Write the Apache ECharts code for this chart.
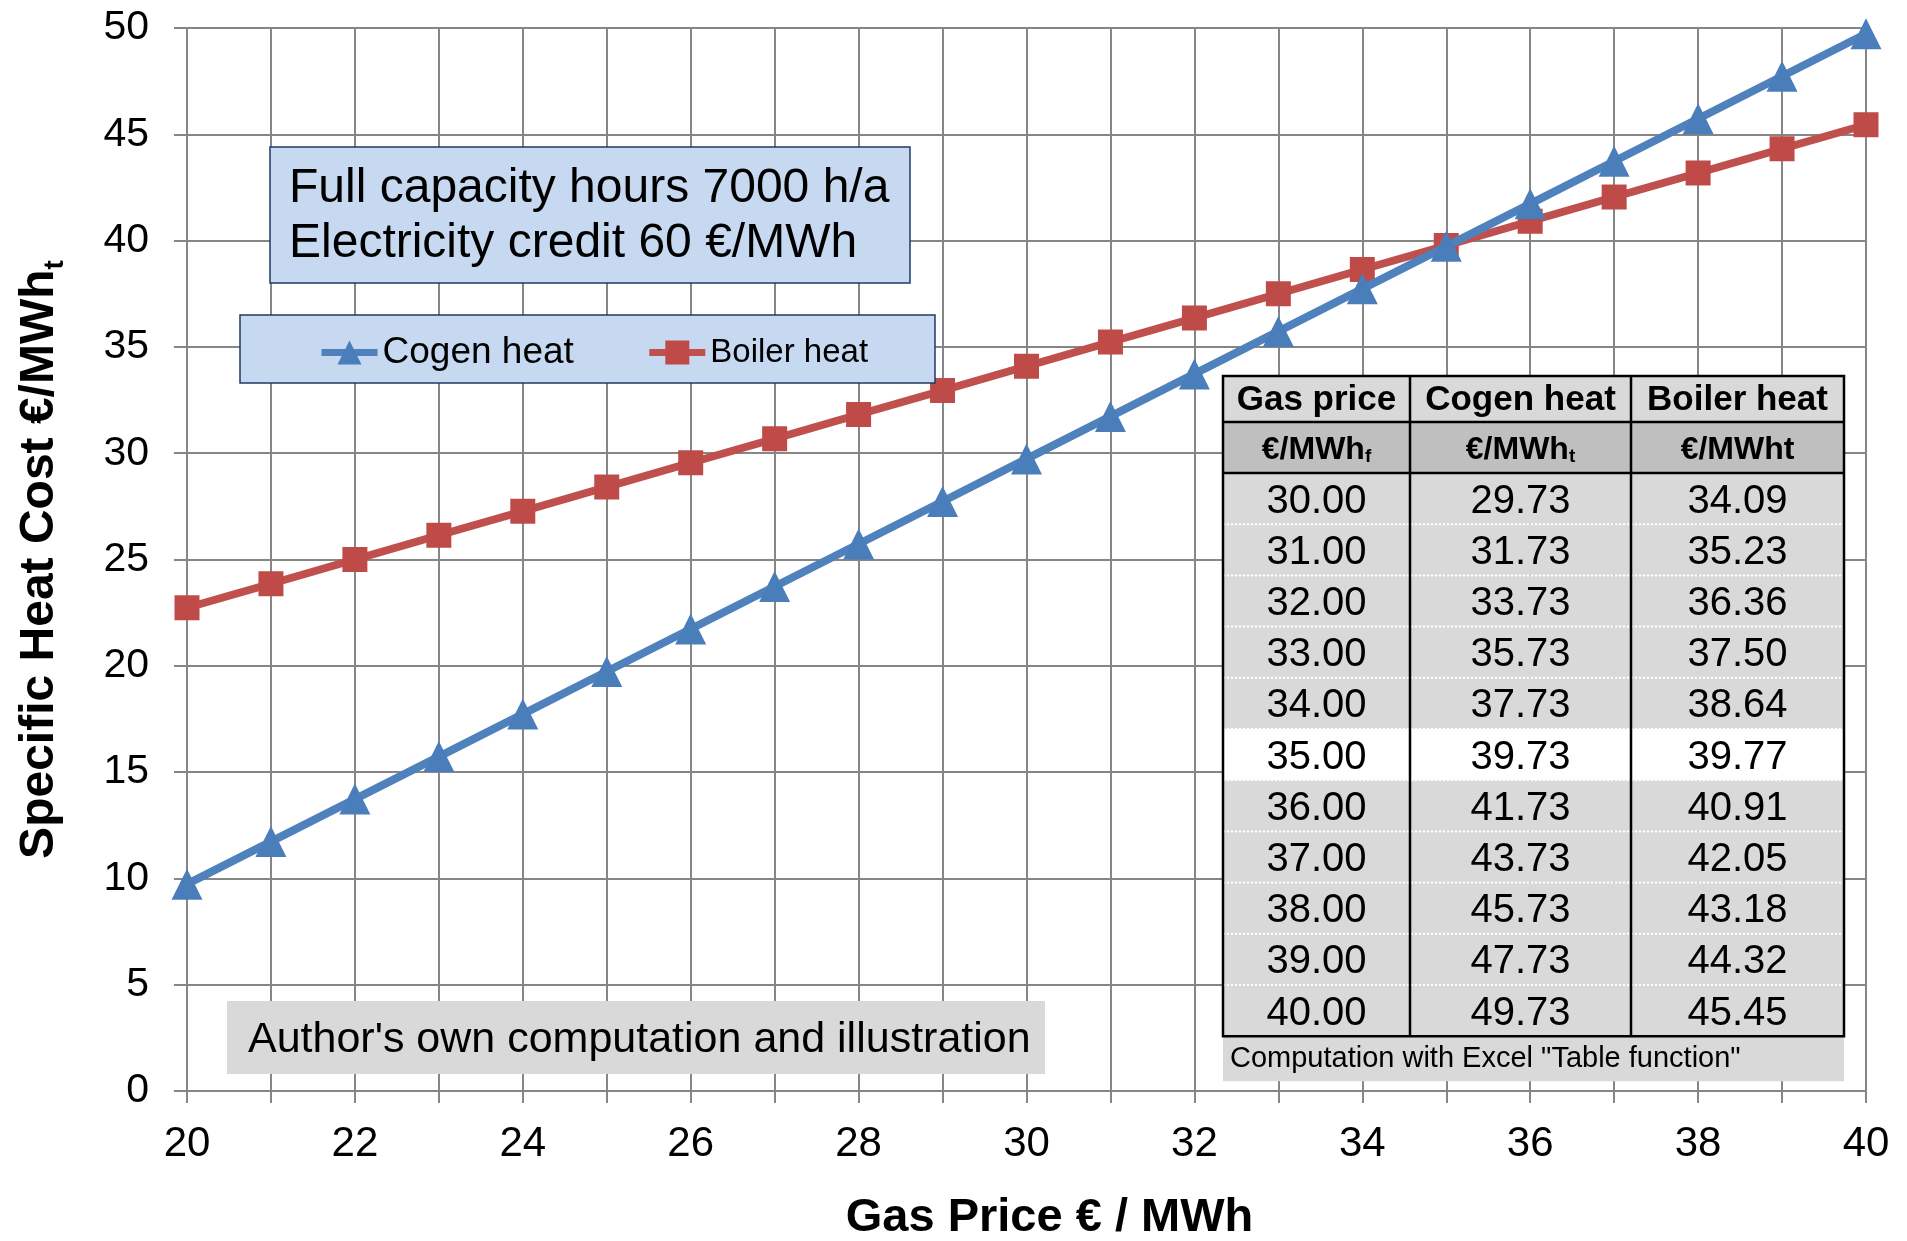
<!DOCTYPE html>
<html>
<head>
<meta charset="utf-8">
<script src="https://cdn.jsdelivr.net/npm/echarts@6/dist/echarts.min.js"></script>
<style>
html,body{margin:0;padding:0;background:#fff;}
#chart{width:1907px;height:1241px;}
</style>
</head>
<body>
<div id="chart"></div>
<script>
// ---- data ----
var gasPrice = [20,21,22,23,24,25,26,27,28,29,30,31,32,33,34,35,36,37,38,39,40];
var cogenHeat = [9.73,11.73,13.73,15.73,17.73,19.73,21.73,23.73,25.73,27.73,29.73,31.73,33.73,35.73,37.73,39.73,41.73,43.73,45.73,47.73,49.73];
var boilerHeat = [22.73,23.86,25.00,26.14,27.27,28.41,29.55,30.68,31.82,32.95,34.09,35.23,36.36,37.50,38.64,39.77,40.91,42.05,43.18,44.32,45.45];
var seriesNames = ['Cogen heat','Boiler heat'];
var tableGas = ['30.00','31.00','32.00','33.00','34.00','35.00','36.00','37.00','38.00','39.00','40.00'];
var tableCogen = ['29.73','31.73','33.73','35.73','37.73','39.73','41.73','43.73','45.73','47.73','49.73'];
var tableBoiler = ['34.09','35.23','36.36','37.50','38.64','39.77','40.91','42.05','43.18','44.32','45.45'];
var tableHead1 = ['Gas price','Cogen heat','Boiler heat'];
var tableHead2 = ['€/MWh{s|f}','€/MWh{s|t}','€/MWht'];
var highlightRow = 5;
var infoLines = ['Full capacity hours 7000 h/a','Electricity credit 60 €/MWh'];
var sourceNote = "Author's own computation and illustration";
var tableNote = 'Computation with Excel "Table function"';
var xTitle = 'Gas Price € / MWh';
var yTitle = 'Specific Heat Cost €/MWh{sub|t}';

// ---- build ----
var FF = '"Liberation Sans", Arial, sans-serif';
var chart = echarts.init(document.getElementById('chart'), null, {renderer:'canvas'});

function pairs(xs, ys){ return xs.map(function(x,i){ return [x, ys[i]]; }); }

var g = [];
// info box
g.push({type:'rect', shape:{x:270,y:147,width:640,height:136}, style:{fill:'#C6D9F1', stroke:'#1F3A64', lineWidth:1.5}, z:50});
g.push({type:'text', x:289, y:161, style:{text:infoLines.join('\n'), font:'48px '+FF, fill:'#000', lineHeight:55}, z:51});
// legend box
g.push({type:'rect', shape:{x:240,y:315,width:695,height:68}, style:{fill:'#C6D9F1', stroke:'#1F3A64', lineWidth:1.5}, z:50});
// source note
g.push({type:'rect', shape:{x:227,y:1001,width:818,height:73}, style:{fill:'#D9D9D9'}, z:50});
g.push({type:'text', x:248, y:1040, style:{text:sourceNote, font:'43px '+FF, fill:'#000', verticalAlign:'middle'}, z:51});

// table
var colX = [1223,1410,1631,1844];
var h1Top = 376, h2Top = 422, dTop = 473, rowH = 51.2, nRows = tableGas.length;
var tBottom = dTop + rowH*nRows;
// fills
g.push({type:'rect', shape:{x:colX[0],y:h1Top,width:colX[3]-colX[0],height:h2Top-h1Top}, style:{fill:'#D9D9D9'}, z:60});
g.push({type:'rect', shape:{x:colX[0],y:h2Top,width:colX[3]-colX[0],height:dTop-h2Top}, style:{fill:'#BFBFBF'}, z:60});
for (var r=0;r<nRows;r++){
  g.push({type:'rect', shape:{x:colX[0],y:dTop+r*rowH,width:colX[3]-colX[0],height:rowH}, style:{fill: r===highlightRow ? '#FFFFFF' : '#D9D9D9'}, z:60});
}
// footer
g.push({type:'rect', shape:{x:colX[0],y:tBottom,width:colX[3]-colX[0],height:45}, style:{fill:'#D9D9D9'}, z:60});
g.push({type:'text', x:colX[0]+7, y:tBottom+23, style:{text:tableNote, font:'29px '+FF, fill:'#000', verticalAlign:'middle'}, z:62});
// dotted row separators
for (var r=1;r<nRows;r++){
  g.push({type:'line', shape:{x1:colX[0],y1:dTop+r*rowH,x2:colX[3],y2:dTop+r*rowH}, style:{stroke:'#FFFFFF', lineWidth:2, lineDash:[2,2]}, z:61});
}
// borders
var bw = 2.5;
g.push({type:'rect', shape:{x:colX[0],y:h1Top,width:colX[3]-colX[0],height:tBottom-h1Top}, style:{fill:null, stroke:'#000', lineWidth:bw}, z:63});
[h2Top, dTop].forEach(function(y){
  g.push({type:'line', shape:{x1:colX[0],y1:y,x2:colX[3],y2:y}, style:{stroke:'#000', lineWidth:bw}, z:63});
});
[colX[1], colX[2]].forEach(function(x){
  g.push({type:'line', shape:{x1:x,y1:h1Top,x2:x,y2:tBottom}, style:{stroke:'#000', lineWidth:bw}, z:63});
});
// texts
for (var c=0;c<3;c++){
  var cx = (colX[c]+colX[c+1])/2;
  g.push({type:'text', x:cx, y:(h1Top+h2Top)/2+1, style:{text:tableHead1[c], font:'bold 35px '+FF, fill:'#000', align:'center', verticalAlign:'middle'}, z:64});
  g.push({type:'text', x:cx, y:(h2Top+dTop)/2+3, style:{text:tableHead2[c], font:'bold 32px '+FF, fill:'#000', align:'center', verticalAlign:'middle', rich:{s:{font:'bold 19px '+FF, fill:'#000', verticalAlign:'bottom', lineHeight:26, padding:[14,0,0,0]}}}, z:64});
  var col = c===0 ? tableGas : (c===1 ? tableCogen : tableBoiler);
  for (var r=0;r<nRows;r++){
    g.push({type:'text', x:cx, y:dTop+r*rowH+rowH/2+3, style:{text:col[r], font:'40px '+FF, fill:'#000', align:'center', verticalAlign:'middle'}, z:64});
  }
}

var option = {
  backgroundColor:'#fff',
  animation:false,
  grid:{left:187, right:41, top:28, bottom:150, containLabel:false, outerBoundsMode:'none'},
  legend:{
    left:318, top:334, itemWidth:56, itemHeight:30, itemGap:72, padding:0, z:55,
    lineStyle:{width:7},
    data:[
      {name:seriesNames[0], textStyle:{fontSize:37, fontFamily:FF, color:'#000'}},
      {name:seriesNames[1], textStyle:{fontSize:33, fontFamily:FF, color:'#000'}}
    ]
  },
  xAxis:{
    type:'value', min:20, max:40, interval:1,
    name:xTitle, nameLocation:'middle', nameGap:104,
    nameTextStyle:{fontSize:47, fontWeight:'bold', fontFamily:FF, color:'#000', padding:[0,0,0,46]},
    axisLine:{show:true, lineStyle:{color:'#868686', width:2}},
    axisTick:{show:true, length:12, inside:false, lineStyle:{color:'#868686', width:2}},
    axisLabel:{fontSize:42, fontFamily:FF, color:'#000', margin:32, showMinLabel:true, showMaxLabel:true,
      formatter:function(v){ return (v%2===0) ? String(v) : ''; }},
    splitLine:{show:true, lineStyle:{color:'#868686', width:2}}
  },
  yAxis:{
    type:'value', min:0, max:50, interval:5,
    name:yTitle, nameLocation:'middle', nameGap:118,
    nameTextStyle:{fontSize:48, fontWeight:'bold', fontFamily:FF, color:'#000',
      rich:{sub:{fontSize:28, fontWeight:'bold', fontFamily:FF, color:'#000', verticalAlign:'bottom', lineHeight:58}}},
    axisLine:{show:true, lineStyle:{color:'#868686', width:2}},
    axisTick:{show:true, length:13, inside:false, lineStyle:{color:'#868686', width:2}},
    axisLabel:{fontSize:41, fontFamily:FF, color:'#000', margin:38},
    splitLine:{show:true, lineStyle:{color:'#868686', width:2}}
  },
  series:[
    {name:seriesNames[0], type:'line', data:pairs(gasPrice, cogenHeat), symbol:'triangle', symbolSize:31, z:4,
      lineStyle:{color:'#4F81BD', width:8}, itemStyle:{color:'#4A7EBB'}},
    {name:seriesNames[1], type:'line', data:pairs(gasPrice, boilerHeat), symbol:'rect', symbolSize:25, z:3,
      lineStyle:{color:'#C0504D', width:8}, itemStyle:{color:'#BE4B48'}}
  ],
  graphic:{elements:g}
};
chart.setOption(option);
</script>
</body>
</html>
